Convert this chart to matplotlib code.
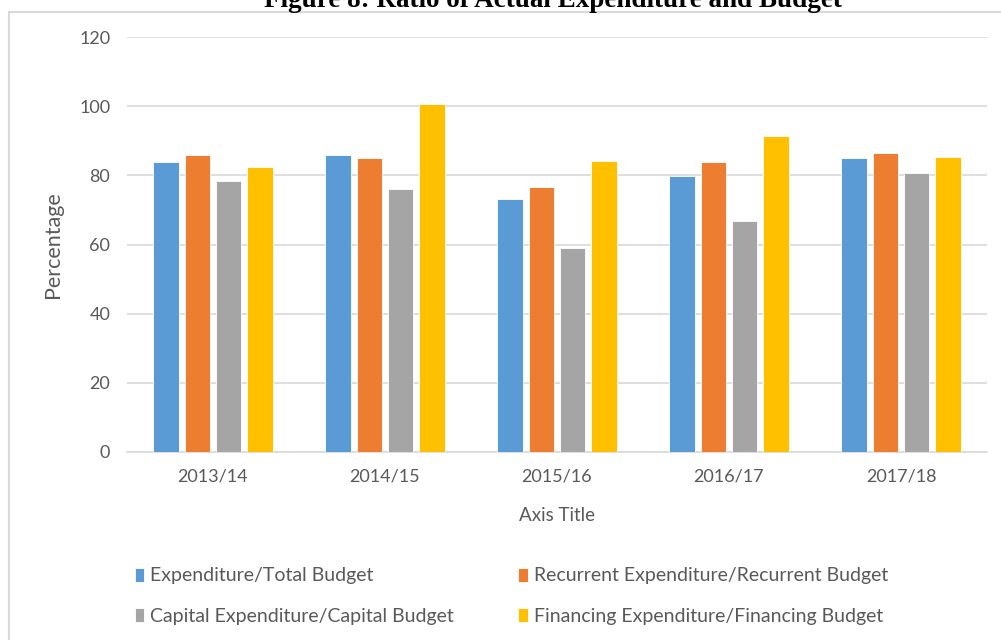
import matplotlib
matplotlib.use("Agg")
import matplotlib.pyplot as plt
from matplotlib.patches import Rectangle
import numpy as np

# data
years = ['2013/14', '2014/15', '2015/16', '2016/17', '2017/18']
exp_total = [84.0, 86.0, 73.2, 79.7, 85.0]
recurrent = [86.0, 85.0, 76.7, 84.0, 86.6]
capital = [78.4, 76.0, 58.9, 66.8, 80.6]
financing = [82.3, 100.7, 84.2, 91.5, 85.3]

series = [exp_total, recurrent, capital, financing]
labels = ['Expenditure/Total Budget',
          'Recurrent Expenditure/Recurrent Budget',
          'Capital Expenditure/Capital Budget',
          'Financing Expenditure/Financing Budget']
colors = ['#5B9BD5', '#ED7D31', '#A5A5A5', '#FFC000']

text_color = '#595959'
grid_color = '#D9D9D9'
font = 'Lato'

fig = plt.figure(figsize=(10.01, 6.4), dpi=100)
ax = fig.add_axes([127 / 1001, 1 - 452 / 640, 860 / 1001, 415 / 640])

x = np.arange(len(years))
pitch = 0.183
width = 0.148
handles = []
for i, vals in enumerate(series):
    b = ax.bar(x + (i - 1.5) * pitch, vals, width, color=colors[i],
               edgecolor='white', linewidth=0.6, zorder=3, label=labels[i])
    handles.append(b)

ax.set_xlim(-0.5, len(years) - 0.5)
ax.set_ylim(0, 120)
ax.set_yticks(range(0, 121, 20))
ax.set_xticks(x)
ax.set_xticklabels(years)
ax.grid(axis='y', color=grid_color, linewidth=1.2, zorder=0)
ax.set_axisbelow(True)
for s in ['top', 'right', 'left']:
    ax.spines[s].set_visible(False)
ax.spines['bottom'].set_color(grid_color)
ax.spines['bottom'].set_linewidth(1.2)
ax.tick_params(length=0, labelsize=13, labelcolor=text_color, pad=12)
for lab in ax.get_xticklabels() + ax.get_yticklabels():
    lab.set_family(font)

ax.set_ylabel('Percentage', fontsize=15.5, color=text_color, family=font, labelpad=12)
ax.set_xlabel('Axis Title', fontsize=13.5, color=text_color, family=font, labelpad=16)

# legend fills row by row in the reference: reorder for matplotlib's column fill
order = [0, 2, 1, 3]
fig.legend(handles=[handles[i] for i in order], labels=[labels[i] for i in order],
           ncol=2, loc='upper left',
           bbox_to_anchor=(117 / 1001, 1 - 550 / 640), frameon=False,
           handlelength=0.5, handleheight=0.7, handletextpad=0.3,
           columnspacing=3.3, labelspacing=1.2,
           prop={'family': font, 'size': 14}, labelcolor=text_color)

# outer chart frame, clipped by the image edge
fig.patches.append(Rectangle((9 / 1001, -0.05), 1.1, 1 - 12 / 640 + 0.05,
                             transform=fig.transFigure, fill=False,
                             edgecolor=grid_color, linewidth=1.5))

# title sits mostly above the top edge of the image
fig.text(0.552, 1 - 7 / 640, 'Figure 8: Ratio of Actual Expenditure and Budget',
         ha='center', va='baseline', fontsize=19.5, fontweight='bold',
         family='Liberation Serif')

fig.savefig('out.png', dpi=100)
